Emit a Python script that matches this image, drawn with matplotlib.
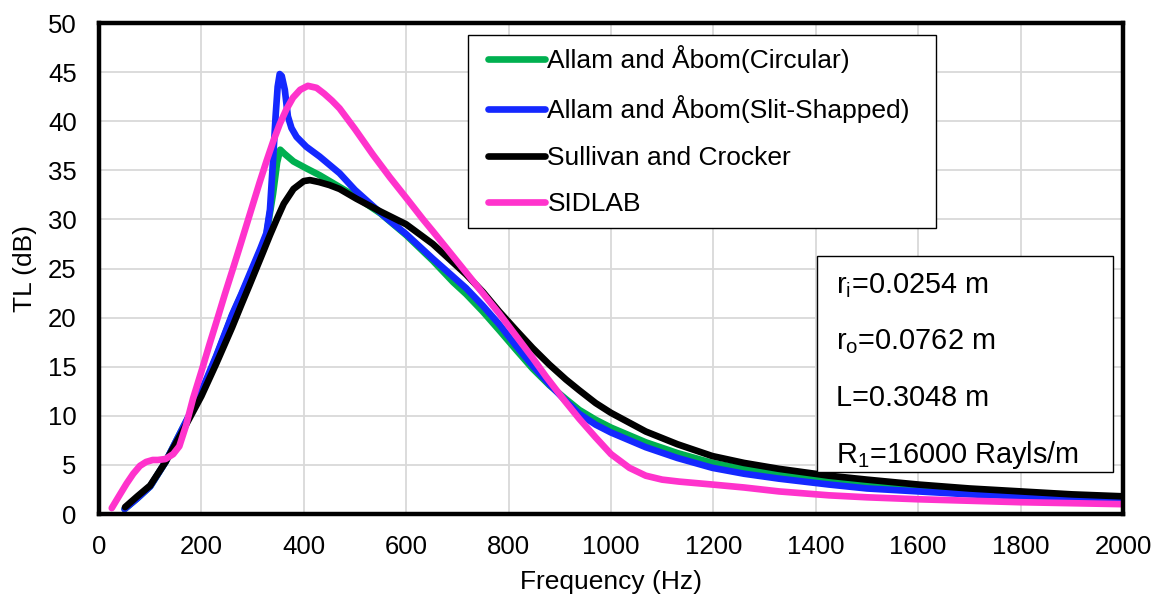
import matplotlib
matplotlib.use("Agg")
import matplotlib.pyplot as plt
from matplotlib.patches import Rectangle

plt.rcParams['font.family'] = ['Liberation Sans', 'DejaVu Sans']
plt.rcParams['mathtext.fontset'] = 'custom'
plt.rcParams['mathtext.rm'] = 'Liberation Sans'
plt.rcParams['mathtext.it'] = 'Liberation Sans'

# Allam and Abom (circular)
f_circ = [50, 75, 100, 130, 164, 200, 229, 260, 278, 294, 315, 327, 340, 348, 354, 362, 380,
          405, 431, 470, 496, 550, 600, 652, 692, 717, 750, 782, 815, 847, 880, 912, 938, 970,
          1000, 1068, 1130, 1198, 1260, 1328, 1426, 1500, 1600, 1700, 1800, 1900, 2000]
tl_circ = [0.5, 1.6, 2.8, 5.3, 8.8, 12.3, 16.0, 20.2, 22.3, 24.2, 26.8, 28.4, 32.6, 35.8, 37.1,
           36.7, 35.9, 35.2, 34.5, 33.3, 32.5, 30.6, 28.4, 25.8, 23.6, 22.4, 20.6, 18.7, 16.7,
           14.8, 13.1, 11.7, 10.6, 9.6, 8.8, 7.3, 6.2, 5.2, 4.6, 4.1, 3.4, 3.0, 2.6, 2.3, 2.0,
           1.8, 1.6]

# Allam and Abom (slit-shaped)
f_slit = [50, 75, 100, 130, 164, 200, 229, 260, 278, 294, 315, 327, 334, 340, 345, 349, 353,
          357, 363, 369, 376, 386, 405, 431, 470, 500, 530, 560, 600, 652, 717, 750, 782, 815,
          847, 880, 912, 938, 970, 1000, 1068, 1130, 1198, 1260, 1328, 1426, 1500, 1600, 1700,
          1800, 1900, 2000]
tl_slit = [0.5, 1.6, 2.8, 5.3, 8.8, 12.5, 16.1, 20.3, 22.4, 24.4, 27.0, 28.6, 31.0, 36.0, 40.5,
           43.5, 44.8, 44.6, 43.2, 40.5, 39.3, 38.4, 37.4, 36.4, 34.7, 33.0, 31.6, 30.2, 28.5,
           26.0, 23.0, 21.2, 19.3, 17.1, 15.1, 13.2, 11.5, 10.2, 9.1, 8.3, 6.8, 5.7, 4.7, 4.1,
           3.6, 3.0, 2.6, 2.3, 2.0, 1.8, 1.6, 1.4]

# Sullivan and Crocker
f_sull = [51, 75, 100, 130, 164, 200, 229, 260, 278, 294, 320, 334, 348, 361, 380, 400, 412,
          430, 450, 470, 503, 550, 600, 652, 717, 750, 782, 815, 847, 880, 912, 938, 970, 1000,
          1068, 1130, 1198, 1260, 1328, 1426, 1500, 1600, 1700, 1800, 1900, 2000]
tl_sull = [0.7, 1.8, 2.9, 5.3, 8.5, 12.0, 15.3, 19.0, 21.3, 23.3, 26.6, 28.4, 30.1, 31.6, 33.1,
           33.9, 34.0, 33.8, 33.5, 33.1, 32.1, 30.8, 29.5, 27.5, 24.4, 22.6, 20.6, 18.7, 16.9,
           15.2, 13.7, 12.6, 11.3, 10.3, 8.4, 7.1, 5.9, 5.2, 4.6, 3.9, 3.5, 3.0, 2.6, 2.3, 2.0,
           1.8]

# SIDLAB
f_sid = [25, 40, 54, 67, 80, 92, 105, 115, 130, 145, 157, 170, 184, 200, 216, 232, 246, 260,
         275, 288, 301, 314, 327, 340, 353, 366, 379, 393, 408, 425, 440, 455, 470, 500, 535,
         568, 600, 633, 652, 717, 782, 847, 873, 910, 938, 970, 1000, 1036, 1068, 1100, 1133,
         1198, 1260, 1328, 1426, 1500, 1600, 1700, 1800, 1900, 2000]
tl_sid = [0.6, 1.9, 3.1, 4.1, 4.9, 5.3, 5.5, 5.5, 5.6, 6.1, 6.9, 9.0, 11.8, 14.5, 17.3, 20.0,
          22.4, 24.7, 27.2, 29.4, 31.6, 33.8, 35.9, 37.9, 39.7, 41.2, 42.4, 43.2, 43.6, 43.4,
          42.8, 42.1, 41.3, 39.2, 36.6, 34.3, 32.2, 30.0, 28.8, 24.6, 20.4, 15.9, 14.0, 11.5,
          9.7, 7.8, 6.1, 4.7, 3.9, 3.5, 3.3, 3.0, 2.7, 2.3, 1.9, 1.7, 1.5, 1.35, 1.2, 1.1, 1.0]

series = [
    (f_circ, tl_circ, "Allam and Åbom(Circular)", "#00b050"),
    (f_slit, tl_slit, "Allam and Åbom(Slit-Shapped)", "#1428ff"),
    (f_sull, tl_sull, "Sullivan and Crocker", "black"),
    (f_sid, tl_sid, "SIDLAB", "#ff33cc"),
]

params = ["r$_\\mathregular{i}$=0.0254 m", "r$_\\mathregular{o}$=0.0762 m",
          "L=0.3048 m", "R$_\\mathregular{1}$=16000 Rayls/m"]

fig = plt.figure(figsize=(11.6, 5.99), dpi=100)
ax = fig.add_axes([0.0853, 0.1419, 0.8828, 0.8197])

for i, (f, tl, name, col) in enumerate(series):
    ax.plot(f, tl, color=col, lw=4.8, label=name, solid_capstyle='round',
            solid_joinstyle='round', zorder=3 + i)

ax.set_xlim(0, 2000)
ax.set_ylim(0, 50)
ax.set_xticks(range(0, 2001, 200))
ax.set_yticks(range(0, 51, 5))
ax.tick_params(length=0, labelsize=18.5)
ax.tick_params(axis='x', pad=15)
ax.tick_params(axis='y', pad=16)
ax.grid(True, color='#d9d9d9', lw=1.3)
ax.set_axisbelow(True)
for sp in ax.spines.values():
    sp.set_linewidth(3.2)
    sp.set_color('black')
    sp.set_zorder(10)

ax.set_xlabel("Frequency (Hz)", fontsize=19, labelpad=8)
ax.set_ylabel("TL (dB)", fontsize=19, labelpad=8)

# legend box drawn separately so the padding can differ per side
leg_box = Rectangle((468 / 1160, 1 - 228 / 599), 468 / 1160, 193 / 599,
                    transform=fig.transFigure, facecolor='white', edgecolor='black',
                    lw=1.0, zorder=11)
ax.add_patch(leg_box)
leg_box.set_clip_on(False)

leg = ax.legend(loc='upper left', bbox_to_anchor=(468 / 1160, 1 - 25 / 599),
                bbox_transform=fig.transFigure, fontsize=19, frameon=False,
                borderpad=0.76, borderaxespad=0, handlelength=2.15, handletextpad=0.1,
                labelspacing=0.85)
leg.set_zorder(12)

box = Rectangle((0.701, 0.0855), 0.289, 0.44, transform=ax.transAxes,
                facecolor='white', edgecolor='black', lw=1.0, zorder=12)
ax.add_patch(box)
for j, txt in enumerate(params):
    ax.text(0.720, 0.466 - j * 0.1153, txt, transform=ax.transAxes, fontsize=20.8,
            va='center', ha='left', zorder=13)

fig.savefig("out.png", dpi=100)
